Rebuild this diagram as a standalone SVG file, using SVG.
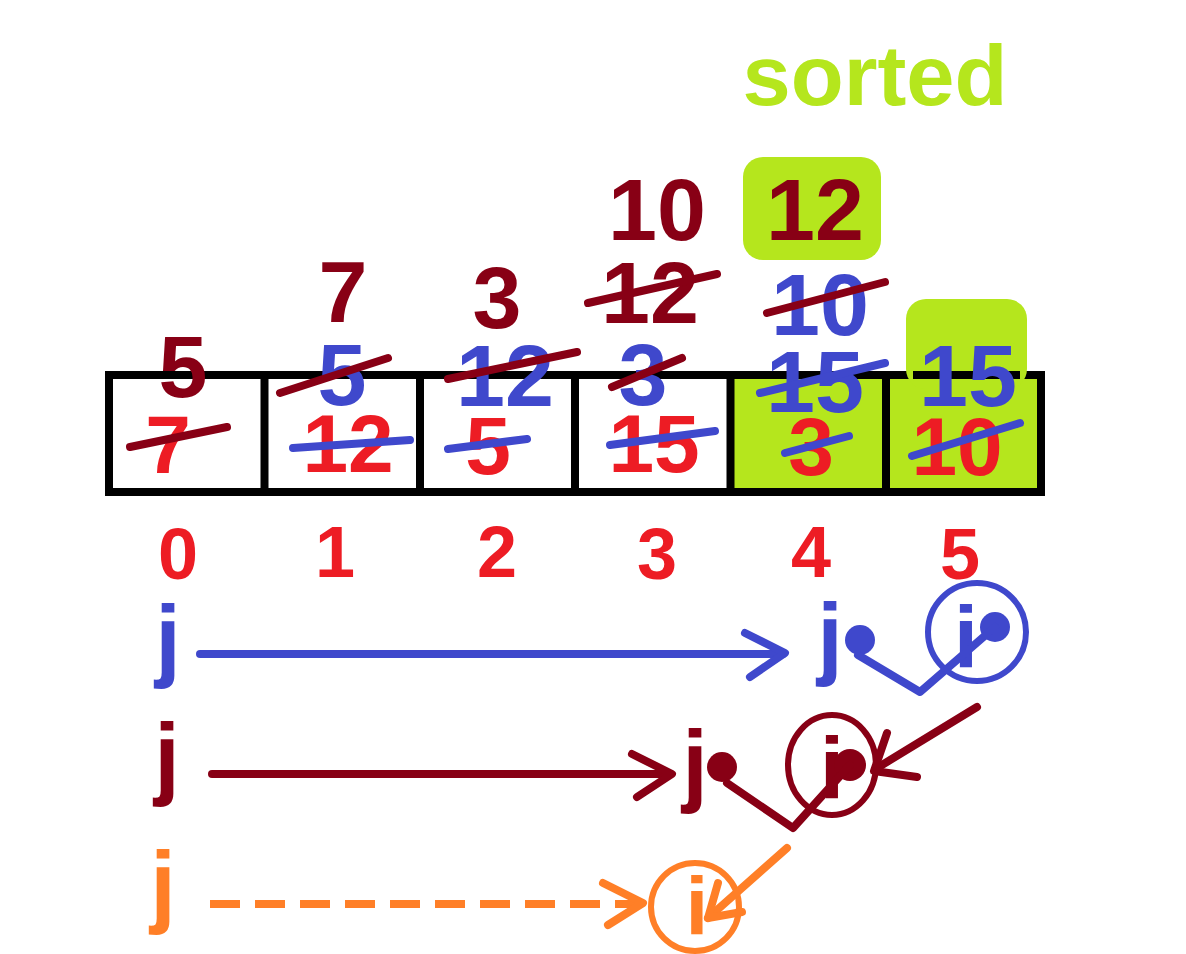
<svg xmlns="http://www.w3.org/2000/svg" width="1186" height="954" viewBox="0 0 1186 954">
<style>
.t{font-family:"Liberation Sans",Arial,sans-serif;font-weight:bold;text-anchor:middle}
.big{font-size:88px}
.mid{font-size:82px}
.idx{font-size:72px}
.jj{font-size:92px}
.ii{font-size:88px}
.dr{fill:#880015}.bl{fill:#3f48cc}.rd{fill:#ed1c24}.or{fill:#ff7f27}.gr{fill:#b5e61d}
.s{fill:none;stroke-width:8;stroke-linecap:round;stroke-linejoin:round}
.sdr{stroke:#880015}.sbl{stroke:#3f48cc}.sor{stroke:#ff7f27}
</style>
<rect width="1186" height="954" fill="#fff"/>

<g id="sorted-label"><text class="t gr" x="875" y="105" font-size="86" textLength="265" lengthAdjust="spacingAndGlyphs">sorted</text></g>

<g id="array">
  <rect x="734" y="379" width="152" height="109" fill="#b5e61d"/>
  <rect x="890" y="379" width="151" height="109" fill="#b5e61d"/>
  <rect x="109" y="375" width="932" height="117" fill="none" stroke="#000" stroke-width="8"/>
  <g stroke="#000" stroke-width="8">
    <line x1="264.5" y1="375" x2="264.5" y2="492"/>
    <line x1="420" y1="375" x2="420" y2="492"/>
    <line x1="575" y1="375" x2="575" y2="492"/>
    <line x1="730.5" y1="375" x2="730.5" y2="492"/>
    <line x1="886" y1="375" x2="886" y2="492"/>
  </g>
  <rect x="906" y="299" width="121" height="90" rx="20" fill="#b5e61d"/>
  <rect x="913" y="371" width="107" height="8" fill="#000"/>
  <rect x="743" y="157" width="138" height="103" rx="20" fill="#b5e61d"/>
</g>

<g id="cell0">
  <text class="t mid rd" x="168" y="473">7</text>
  <text class="t big dr" x="183" y="397">5</text>
</g>
<g id="cell1">
  <text class="t mid rd" x="348" y="472">12</text>
  <text class="t big bl" x="342" y="405">5</text>
  <text class="t big dr" x="343" y="322">7</text>
</g>
<g id="cell2">
  <text class="t mid rd" x="488" y="474">5</text>
  <text class="t big bl" x="505" y="406">12</text>
  <text class="t big dr" x="497" y="328">3</text>
</g>
<g id="cell3">
  <text class="t mid rd" x="654" y="472">15</text>
  <text class="t big bl" x="643" y="405">3</text>
  <text class="t big dr" x="650" y="323">12</text>
  <text class="t big dr" x="657" y="240">10</text>
</g>
<g id="cell4">
  <text class="t mid rd" x="811" y="475">3</text>
  <text class="t big bl" x="815" y="412">15</text>
  <text class="t big bl" x="820" y="335">10</text>
  <text class="t big dr" x="815" y="240">12</text>
</g>
<g id="cell5">
  <text class="t mid rd" x="957" y="475">10</text>
  <text class="t big bl" x="968" y="406">15</text>
</g>

<g id="strikes" class="s">
  <line class="sdr" x1="130" y1="447" x2="227" y2="427"/>
  <line class="sdr" x1="280" y1="393" x2="388" y2="358"/>
  <line class="sbl" x1="293" y1="448" x2="410" y2="440"/>
  <line class="sdr" x1="448" y1="379" x2="577" y2="352"/>
  <line class="sbl" x1="448" y1="449" x2="527" y2="439"/>
  <line class="sdr" x1="588" y1="303" x2="717" y2="274"/>
  <line class="sdr" x1="612" y1="387" x2="682" y2="358"/>
  <line class="sbl" x1="610" y1="445" x2="715" y2="431"/>
  <line class="sdr" x1="767" y1="313" x2="885" y2="282"/>
  <line class="sbl" x1="760" y1="393" x2="885" y2="363"/>
  <line class="sbl" x1="785" y1="453" x2="849" y2="436"/>
  <line class="sbl" x1="912" y1="456" x2="1020" y2="423"/>
</g>

<g id="indices">
  <text class="t idx rd" x="178" y="579">0</text>
  <text class="t idx rd" x="335" y="577">1</text>
  <text class="t idx rd" x="497" y="577">2</text>
  <text class="t idx rd" x="657" y="579">3</text>
  <text class="t idx rd" x="811" y="577">4</text>
  <text class="t idx rd" x="960" y="579">5</text>
</g>

<g id="pass1">
  <text class="t jj bl" x="168" y="670">j</text>
  <text class="t jj bl" x="830" y="668">j</text>
  <circle cx="860" cy="640" r="15" fill="#3f48cc"/>
  <circle cx="977" cy="632" r="49" fill="none" stroke="#3f48cc" stroke-width="6"/>
  <text class="t ii bl" x="966" y="667">i</text>
  <circle cx="995" cy="627" r="15" fill="#3f48cc"/>
</g>
<g id="pass2">
  <text class="t jj dr" x="167" y="788">j</text>
  <text class="t jj dr" x="695" y="795">j</text>
  <circle cx="722" cy="767" r="15" fill="#880015"/>
  <ellipse cx="832" cy="765" rx="44" ry="50" fill="none" stroke="#880015" stroke-width="6"/>
  <text class="t ii dr" x="832" y="798">i</text>
  <circle cx="850" cy="765" r="16" fill="#880015"/>
</g>
<g id="pass3">
  <text class="t jj or" x="163" y="916">j</text>
  <circle cx="695" cy="907" r="44" fill="none" stroke="#ff7f27" stroke-width="6"/>
  <text class="t or" x="697" y="934" font-size="82">i</text>
</g>

<g id="connectors" class="s">
  <line class="sbl" x1="200" y1="654" x2="783" y2="654"/>
  <polyline class="sbl" points="745,633 785,653 750,677"/>
  <polyline class="sbl" points="858,655 920,692 995,627"/>
  <line class="sdr" x1="212" y1="774" x2="670" y2="774"/>
  <polyline class="sdr" points="632,754 672,774 637,797"/>
  <polyline class="sdr" points="727,783 793,828 850,765"/>
  <line class="sdr" x1="977" y1="707" x2="877" y2="768"/>
  <polyline class="sdr" points="887,733 874,771 917,777"/>
  <line class="sor" x1="210" y1="904" x2="640" y2="904" stroke-dasharray="30,15" stroke-linecap="butt"/>
  <polyline class="sor" points="603,883 643,903 608,925"/>
  <line class="sor" x1="787" y1="848" x2="708" y2="918"/>
  <polyline class="sor" points="718,883 708,918 742,912"/>
</g>
</svg>
